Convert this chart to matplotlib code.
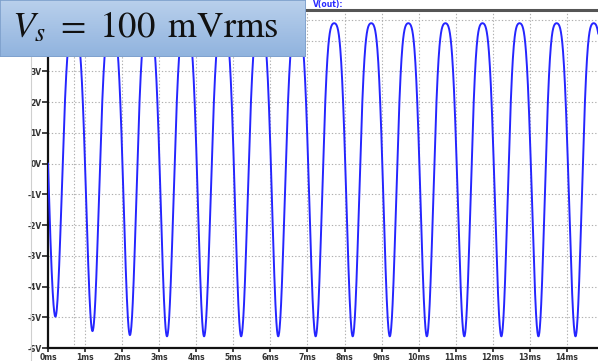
import numpy as np
import matplotlib
matplotlib.use("Agg")
import matplotlib.pyplot as plt
from matplotlib.patches import Rectangle

plt.rcParams["mathtext.fontset"] = "stix"

# ---- data (time in ms, voltage in V) ----
start_t, start_v = 0.0, 0.0
trough_t = [0.20, 1.20, 2.21, 3.21, 4.21, 5.21, 6.21, 7.22, 8.22, 9.22, 10.22, 11.23, 12.23, 13.23, 14.23, 15.23]
trough_v = [-4.98, -5.45, -5.58, -5.62, -5.62, -5.62, -5.62, -5.62, -5.62, -5.62, -5.62, -5.62, -5.62, -5.62, -5.62, -5.62]
peak_t = [0.70, 1.71, 2.71, 3.72, 4.72, 5.72, 6.72, 7.72, 8.72, 9.72, 10.72, 11.72, 12.72, 13.72, 14.72]
peak_v = [4.45, 4.55, 4.57, 4.57, 4.57, 4.57, 4.57, 4.57, 4.57, 4.57, 4.57, 4.57, 4.57, 4.57, 4.57]
x_ticks = list(range(0, 15))
x_labels = [f"{v}ms" for v in x_ticks]
y_ticks = list(range(-6, 6))
y_labels = [f"{v}V" if v <= 3 else "" for v in y_ticks]
skew = 0.22  # sharper troughs / rounder peaks of the waveform

# ---- build the waveform from the extrema ----
ext_t = [start_t]
ext_v = [start_v]
for i in range(len(trough_t)):
    ext_t.append(trough_t[i]); ext_v.append(trough_v[i])
    if i < len(peak_t):
        ext_t.append(peak_t[i]); ext_v.append(peak_v[i])

def shape(s):
    th = -np.pi / 2 + np.pi * s
    return (np.sin(th) + skew * np.cos(2 * th) + 1 + skew) / 2

ts, vs = [], []
for i in range(len(ext_t) - 1):
    t0, t1 = ext_t[i], ext_t[i + 1]
    v0, v1 = ext_v[i], ext_v[i + 1]
    s = np.linspace(0, 1, 80)
    t = t0 + (t1 - t0) * s
    if i == 0:
        v = v0 + (v1 - v0) * np.sin(np.pi / 2 * s)
    elif v1 > v0:
        v = v0 + (v1 - v0) * shape(s)
    else:
        v = v1 + (v0 - v1) * shape(1 - s)
    ts.append(t); vs.append(v)
ts = np.concatenate(ts); vs = np.concatenate(vs)

W, H = 598, 361
fig = plt.figure(figsize=(W / 100, H / 100), dpi=100)
fig.patch.set_facecolor("white")

px_per_ms = 37.07
ax = fig.add_axes([48 / W, 13 / H, 550 / W, 338 / H])
ax.set_xlim(0, 550 / px_per_ms)
ax.set_ylim(-6, 5)
ax.set_facecolor("white")

grid_kw = dict(color="#b0b0b0", lw=0.8, ls=(0, (1.2, 1.8)), zorder=1)
for xv in x_ticks[1:]:
    ax.axvline(xv, **grid_kw)
for yv in y_ticks[1:]:
    ax.axhline(yv, **grid_kw)
ax.axvline(0.69, **grid_kw)
ax.axhline(4.66, **grid_kw)

ax.plot(ts, vs, color="#2525ff", lw=1.4, zorder=3, clip_on=True)

ax.set_xticks(x_ticks)
ax.set_xticklabels(x_labels)
ax.set_yticks(y_ticks)
ax.set_yticklabels(y_labels)
ax.tick_params(axis="both", direction="out", width=1.2, color="#222222",
               labelsize=5.5, labelcolor="#333333")
ax.tick_params(axis="x", length=3, pad=0.5)
ax.tick_params(axis="y", length=4, pad=0.5)
for lab in ax.get_xticklabels() + ax.get_yticklabels():
    lab.set_fontweight("bold")
ax.spines["right"].set_visible(False)
ax.spines["left"].set_linewidth(1.6)
ax.spines["bottom"].set_linewidth(1.6)
ax.spines["left"].set_color("#111111")
ax.spines["bottom"].set_color("#111111")
ax.spines["top"].set_linewidth(2.2)
ax.spines["top"].set_color("#555555")

# left border of the plot window
fig.add_artist(plt.Line2D([30.5 / W, 30.5 / W], [0, 1 - 57 / H], transform=fig.transFigure,
                          color="#cfcfcf", lw=0.8))

# trace label
fig.text(313 / W, 1 - 5 / H, "V(out):", color="#2a2aff", fontsize=5.5, fontweight="bold",
         va="center", ha="left")

# text box with gradient
bax = fig.add_axes([0, 1 - 57 / H, 306 / W, 57 / H])
bax.set_axis_off()
grad = np.linspace(0, 1, 100)[:, None]
top = np.array([0xb9, 0xd0, 0xec]) / 255
bot = np.array([0x90, 0xb3, 0xde]) / 255
img = top[None, None, :] * (1 - grad[:, :, None]) + bot[None, None, :] * grad[:, :, None]
bax.imshow(img, aspect="auto", extent=[0, 1, 0, 1], origin="upper")
bax.set_xlim(0, 1); bax.set_ylim(0, 1)
bax.add_patch(Rectangle((0, 0), 1, 1, fill=False, edgecolor="#7d9fcb", lw=1.2,
                        transform=bax.transAxes))

fig.text(12 / W, 1 - 37 / H, r"$V_s\ =\ 100\ \,\mathrm{mVrms}$", fontsize=26.5, color="#111111",
         ha="left", va="baseline")

fig.savefig("out.png", dpi=100)
